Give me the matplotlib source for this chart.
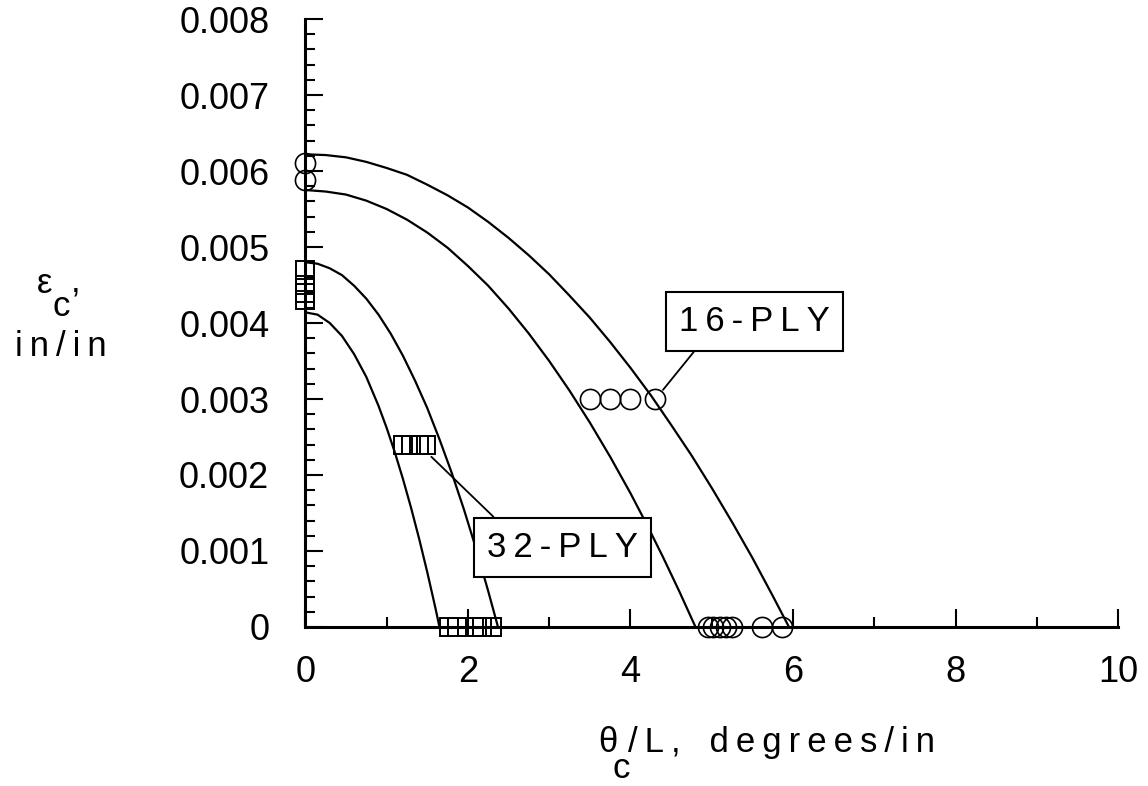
import matplotlib
matplotlib.use("Agg")
import matplotlib.pyplot as plt
from matplotlib.ticker import MultipleLocator, FuncFormatter
from matplotlib import rcParams

rcParams.update({
    "font.family": ["Liberation Sans", "DejaVu Sans"],
})

# curves
ply16_upper_x = [0, 0.25, 0.5, 0.75, 1, 1.25, 1.5, 1.75, 2, 2.25, 2.5, 2.75, 3, 3.25,
                 3.5, 3.75, 4, 4.25, 4.5, 4.75, 5, 5.25, 5.5, 5.75, 5.95]
ply16_upper_y = [0.00622, 0.00621, 0.00618, 0.00612, 0.00604, 0.00595, 0.00582, 0.00568,
                 0.00552, 0.00533, 0.00512, 0.00489, 0.00464, 0.00436, 0.00407, 0.00375,
                 0.00341, 0.00305, 0.00266, 0.00226, 0.00183, 0.00138, 0.00091, 0.00041, 0.0]
ply16_lower_x = [0, 0.25, 0.5, 0.75, 1, 1.25, 1.5, 1.75, 2, 2.25, 2.5, 2.75, 3, 3.25,
                 3.5, 3.75, 4, 4.2, 4.4, 4.6, 4.8]
ply16_lower_y = [0.00575, 0.00573, 0.00569, 0.00561, 0.0055, 0.00536, 0.00519, 0.00499,
                 0.00475, 0.00449, 0.00419, 0.00386, 0.0035, 0.00311, 0.00269, 0.00224,
                 0.00176, 0.00135, 0.00092, 0.00047, 0.0]
ply32_upper_x = [0, 0.15, 0.3, 0.45, 0.6, 0.75, 0.9, 1.05, 1.2, 1.35, 1.5, 1.65, 1.8,
                 1.95, 2.1, 2.25, 2.37]
ply32_upper_y = [0.0048, 0.00478, 0.00472, 0.00463, 0.00449, 0.00432, 0.00411, 0.00386,
                 0.00357, 0.00324, 0.00288, 0.00247, 0.00203, 0.00155, 0.00103, 0.00047, 0.0]
ply32_lower_x = [0, 0.15, 0.3, 0.45, 0.6, 0.75, 0.9, 1.0, 1.1, 1.2, 1.3, 1.4, 1.5, 1.6, 1.65]
ply32_lower_y = [0.00414, 0.00411, 0.004, 0.00383, 0.00359, 0.00329, 0.00291, 0.00262,
                 0.0023, 0.00195, 0.00157, 0.00116, 0.00072, 0.00025, 0.0]

# test points
ply16_x = [0, 0, 3.5, 3.75, 4.0, 4.3, 4.95, 5.02, 5.1, 5.18, 5.25, 5.62, 5.87]
ply16_y = [0.0061, 0.00588, 0.003, 0.003, 0.003, 0.003, 0, 0, 0, 0, 0, 0, 0]
ply32_x = [0, 0, 0, 0, 1.2, 1.3, 1.4, 1.48, 1.77, 1.86, 2.11, 2.17, 2.3]
ply32_y = [0.0047, 0.0045, 0.0044, 0.0043, 0.0024, 0.0024, 0.0024, 0.0024, 0, 0, 0, 0, 0]

W, H = 1148, 786
fig = plt.figure(figsize=(W / 100, H / 100), dpi=100)
ax = fig.add_axes([0.266, 0.2023, 0.708, 0.7735])

for cx, cy in [(ply16_upper_x, ply16_upper_y), (ply16_lower_x, ply16_lower_y),
               (ply32_upper_x, ply32_upper_y), (ply32_lower_x, ply32_lower_y)]:
    ax.plot(cx, cy, color="black", lw=1.6, clip_on=False, zorder=2)

ax.plot(ply16_x, ply16_y, ls="none", marker="o", ms=14.5, mfc="none",
        mec="black", mew=1.2, clip_on=False, zorder=3)
ax.plot(ply32_x, ply32_y, ls="none", marker="s", ms=13.5, mfc="none",
        mec="black", mew=1.4, clip_on=False, zorder=3)

ax.set_xlim(0, 10)
ax.set_ylim(0, 0.008)
ax.spines["top"].set_visible(False)
ax.spines["right"].set_visible(False)
ax.spines["left"].set_linewidth(2.2)
ax.spines["bottom"].set_linewidth(2.2)

ax.xaxis.set_major_locator(MultipleLocator(2))
ax.xaxis.set_minor_locator(MultipleLocator(1))
ax.yaxis.set_major_locator(MultipleLocator(0.001))
ax.yaxis.set_minor_locator(MultipleLocator(0.0002))
ax.yaxis.set_major_formatter(FuncFormatter(lambda v, p: "0" if abs(v) < 1e-9 else f"{v:.3f}"))
ax.tick_params(which="major", direction="in", length=13, width=1.5, labelsize=26)
ax.tick_params(which="minor", direction="in", length=7, width=1.5)
ax.tick_params(axis="y", which="major", pad=26)
ax.tick_params(axis="x", which="major", pad=20)

sp = "\u2009"  # loose letter spacing like the original lettering
def spaced(s):
    return sp.join(s)

ax.annotate(spaced("16-PLY"), xy=(4.4, 0.00312), xytext=(5.53, 0.00402),
            fontsize=25, ha="center", va="center",
            bbox=dict(boxstyle="square,pad=0.38", fc="white", ec="black", lw=1.5),
            arrowprops=dict(arrowstyle="-", color="black", lw=1.3,
                            relpos=(0.17, 0.0), shrinkA=0, shrinkB=0))
ax.annotate(spaced("32-PLY"), xy=(1.55, 0.00224), xytext=(3.16, 0.00105),
            fontsize=25, ha="center", va="center",
            bbox=dict(boxstyle="square,pad=0.38", fc="white", ec="black", lw=1.5),
            arrowprops=dict(arrowstyle="-", color="black", lw=1.3,
                            relpos=(0.14, 1.0), shrinkA=0, shrinkB=0))

def px_text(x, y, s, **kw):
    fig.text(x / W, 1 - y / H, s, fontsize=25, va="baseline", **kw)

# x axis title: theta with a full-size, dropped subscript c
px_text(598, 752, "θ")
px_text(613, 778, "c")
px_text(628, 752, spaced("/L,") + "   " + spaced("degrees/in"))

# y axis title
px_text(37, 293, "ε")
px_text(52, 316, "c")
px_text(71, 291, ",")
px_text(61, 356, spaced("in/in"), ha="center")

fig.savefig("out.png", dpi=100)
